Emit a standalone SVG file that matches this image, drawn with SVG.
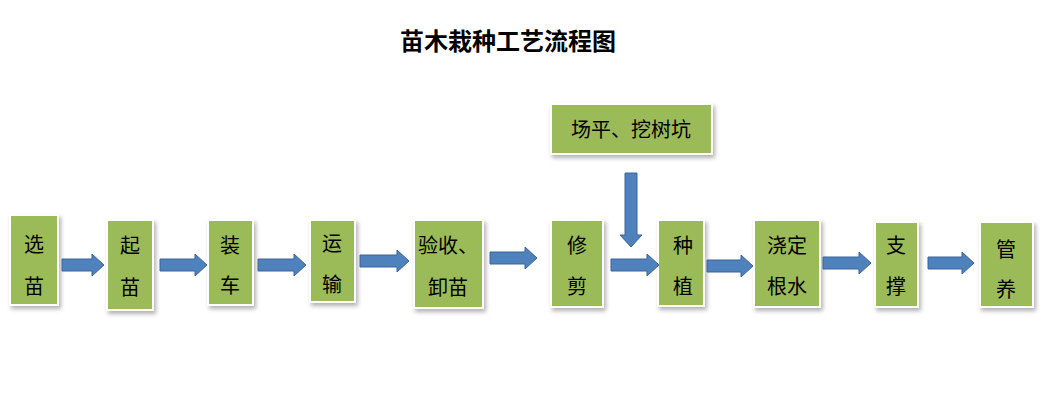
<svg xmlns="http://www.w3.org/2000/svg" width="1046" height="403" viewBox="0 0 1046 403">
<defs>
<style>
.b{fill:#9BBB59;stroke:#fff;stroke-width:2;filter:url(#sh)}
.t{font-family:"Liberation Serif","Noto Sans CJK SC",serif;font-size:20px;fill:#000;text-anchor:middle}
.a{fill:#4F81BD;stroke:#3A659A;stroke-width:1}
</style>
<filter id="sh" x="-20%" y="-20%" width="150%" height="150%"><feDropShadow dx="2" dy="3" stdDeviation="2" flood-color="#000" flood-opacity="0.3"/></filter>
</defs>
<rect width="1046" height="403" fill="#fff"/>
<text x="508" y="50" font-family="'Noto Sans CJK SC',sans-serif" font-size="24" font-weight="bold" text-anchor="middle">苗木栽种工艺流程图</text>
<g id="n1"><rect class="b" x="10" y="215" width="48" height="90"/><text class="t" x="34" y="252">选</text><text class="t" x="34" y="294">苗</text></g>
<g id="n2"><rect class="b" x="107" y="220" width="46" height="90"/><text class="t" x="130" y="253">起</text><text class="t" x="130" y="295">苗</text></g>
<g id="n3"><rect class="b" x="208" y="220" width="45" height="85"/><text class="t" x="230" y="253">装</text><text class="t" x="230" y="293">车</text></g>
<g id="n4"><rect class="b" x="310" y="220" width="45" height="82"/><text class="t" x="332" y="251">运</text><text class="t" x="332" y="292">输</text></g>
<g id="n5"><rect class="b" x="414" y="220" width="69" height="88"/><text class="t" x="448" y="253">验收、</text><text class="t" x="448" y="295">卸苗</text></g>
<g id="n6"><rect class="b" x="551" y="220" width="52" height="87"/><text class="t" x="577" y="253">修</text><text class="t" x="577" y="294">剪</text></g>
<g id="n7"><rect class="b" x="658" y="220" width="46" height="86"/><text class="t" x="683" y="253">种</text><text class="t" x="683" y="294">植</text></g>
<g id="n8"><rect class="b" x="754" y="220" width="66" height="87"/><text class="t" x="787" y="253">浇定</text><text class="t" x="787" y="294">根水</text></g>
<g id="n9"><rect class="b" x="875" y="222" width="43" height="85"/><text class="t" x="896" y="253">支</text><text class="t" x="896" y="294">撑</text></g>
<g id="n10"><rect class="b" x="980" y="222" width="53" height="85"/><text class="t" x="1006" y="257">管</text><text class="t" x="1006" y="297">养</text></g>
<g id="n11"><rect class="b" x="551" y="104" width="161" height="50"/><text class="t" x="631" y="137">场平、挖树坑</text></g>
<g id="connectors">
<path class="a" d="M62 259H92V254L104 265L92 276V271H62Z"/>
<path class="a" d="M160 259H195V254L207 265L195 276V271H160Z"/>
<path class="a" d="M258 259H294V254L306 265L294 276V271H258Z"/>
<path class="a" d="M360 255H397V250L409 261L397 272V267H360Z"/>
<path class="a" d="M490 252H525V247L537 258L525 269V264H490Z"/>
<path class="a" d="M611 259H647V254L659 265L647 276V271H611Z"/>
<path class="a" d="M707 260H741V255L753 266L741 277V272H707Z"/>
<path class="a" d="M823 257H859V252L871 263L859 274V269H823Z"/>
<path class="a" d="M928 257H962V252L974 263L962 274V269H928Z"/>
<path class="a" d="M625 173H637V235H642L631 247L620 235H625Z"/>
</g>
</svg>
